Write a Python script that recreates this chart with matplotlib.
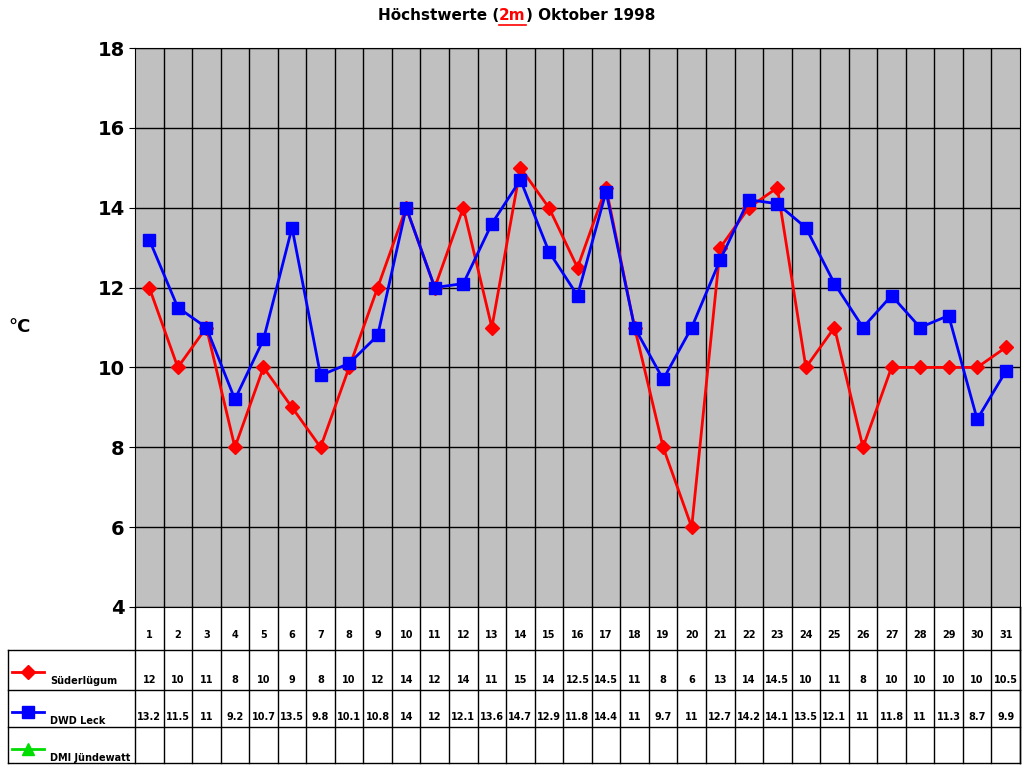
import matplotlib
matplotlib.use("Agg")
import matplotlib.pyplot as plt
from matplotlib.lines import Line2D

days = list(range(1, 32))
suder = [12,10,11,8,10,9,8,10,12,14,12,14,11,15,14,12.5,14.5,11,8,6,13,14,14.5,10,11,8,10,10,10,10,10.5]
leck = [13.2,11.5,11,9.2,10.7,13.5,9.8,10.1,10.8,14,12,12.1,13.6,14.7,12.9,11.8,14.4,11,9.7,11,12.7,14.2,14.1,13.5,12.1,11,11.8,11,11.3,8.7,9.9]
series_names = ["Süderlügum", "DWD Leck", "DMI Jündewatt"]

W, H = 1024, 768
fig = plt.figure(figsize=(10.24, 7.68), dpi=100)
L, R, T, B = 135, 1020, 48, 607
ax = fig.add_axes([L/W, 1-B/H, (R-L)/W, (B-T)/H])
ax.set_facecolor("#c0c0c0")
ax.plot(days, suder, color="red", marker="D", ms=7, lw=2, zorder=3)
ax.plot(days, leck, color="blue", marker="s", ms=8, lw=2, zorder=4)
ax.set_xlim(0.5, 31.5)
ax.set_ylim(4, 18)
ax.set_yticks(range(4, 19, 2))
ax.set_xticks([d + 0.5 for d in days[:-1]])
ax.set_xticklabels([])
ax.tick_params(axis="x", length=0)
ax.tick_params(axis="y", labelsize=14, length=4)
for lab in ax.get_yticklabels():
    lab.set_fontweight("bold")
ax.grid(True, color="black", lw=1)
for s in ax.spines.values():
    s.set_color("black")

t1 = fig.text(378/W, 1-20/H, "Höchstwerte (", ha="left", va="baseline", fontsize=11, fontweight="bold")
t2 = fig.text(0, 0, "2m", fontsize=11, fontweight="bold", color="red")
fig.canvas.draw()
r = fig.canvas.get_renderer()
bb1 = t1.get_window_extent(r)
t2.set_position((bb1.x1/W, 1-20/H)); t2.set_va("baseline")
fig.canvas.draw()
bb2 = t2.get_window_extent(r)
fig.add_artist(Line2D([bb2.x0/W, bb2.x1/W], [bb2.y0/H - 0.003, bb2.y0/H - 0.003], color="red", lw=1.2))
fig.text(bb2.x1/W, 1-20/H, ") Oktober 1998", ha="left", va="baseline", fontsize=11, fontweight="bold")
fig.text(20/W, 1-327/H, "°C", ha="center", va="center", fontsize=13, fontweight="bold")

tab = fig.add_axes([0, 0, 1, 1])
tab.set_xlim(0, W); tab.set_ylim(H, 0); tab.axis("off")
cw = (R - L) / 31
rows = [607, 650, 690, 727, 763]
for y in rows[1:]:
    tab.plot([8, R], [y, y], color="black", lw=1)
tab.plot([R, R], [rows[0], rows[-1]], color="black", lw=1)
tab.plot([8, 8], [rows[1], rows[-1]], color="black", lw=1)
for i in range(32):
    x = L + i * cw
    tab.plot([x, x], [rows[0], rows[-1]], color="black", lw=1)
for i, d in enumerate(days):
    cx = L + (i + 0.5) * cw
    tab.text(cx, 635, str(d), ha="center", va="center", fontsize=7, fontweight="bold")
    tab.text(cx, 680, f"{suder[i]:g}", ha="center", va="center", fontsize=7, fontweight="bold")
    tab.text(cx, 717, f"{leck[i]:g}", ha="center", va="center", fontsize=7, fontweight="bold")
specs = [("red", "D", 7), ("blue", "s", 8), ("#00dd00", "^", 8)]
for (c, m, ms), name, y0 in zip(specs, series_names, [rows[1], rows[2], rows[3]]):
    tab.plot([12, 44], [y0 + 22, y0 + 22], color=c, lw=2)
    tab.plot([28], [y0 + 22], color=c, marker=m, ms=ms)
    tab.text(50, y0 + 31, name, ha="left", va="center", fontsize=7, fontweight="bold")

fig.savefig("out.png", dpi=100)
